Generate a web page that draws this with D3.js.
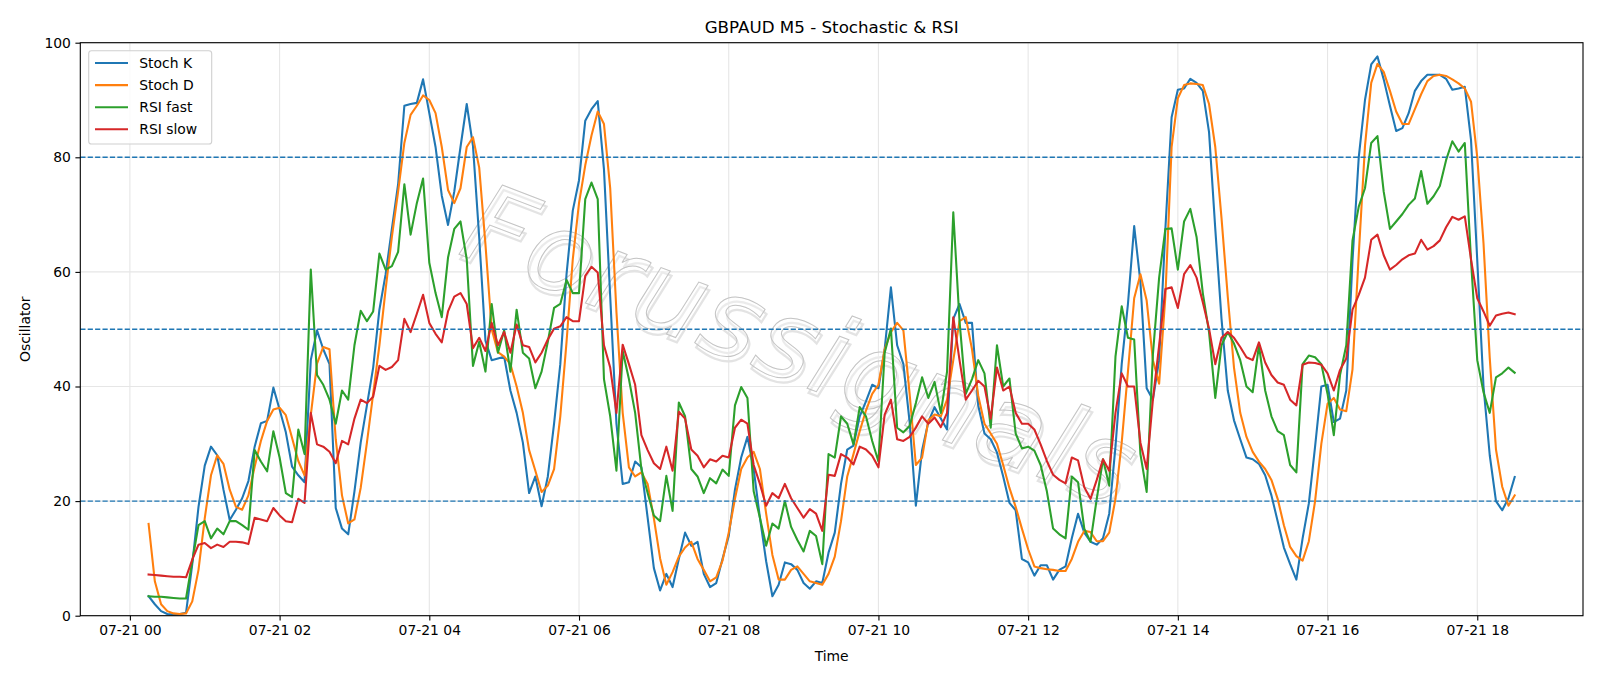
<!DOCTYPE html>
<html>
<head>
<meta charset="utf-8">
<script src="https://cdn.jsdelivr.net/npm/d3@7"></script>
<style>
  body { margin: 0; background: #fff; }
  svg { display: block; font-family: "DejaVu Sans", sans-serif; }
</style>
</head>
<body>
<div id="chart"></div>
<script>
"use strict";
(function() {

const WIDTH = 1600
const HEIGHT = 686
const margin = { top: 42.7, bottom: 70.3, left: 80.3, right: 17 }

const BLUE = "#1f77b4"
const ORANGE = "#ff7f0e"
const GREEN = "#2ca02c"
const RED = "#d62728"

const TITLE = "GBPAUD M5 - Stochastic & RSI"
const WATERMARK = "Forussignals"

// first bar is 07-21 00:15, one bar every 5 minutes
const START = new Date(2024, 6, 21, 0, 15)
const STEP_MIN = 5

const stochK = [
  3.4, 2.0, 0.8, 0.3, 0.2, 0.3, 0.5, 9, 19, 26.2,
  29.5, 28, 22, 16.7, 18.5, 20.5, 23.5, 29.5, 33.6, 34,
  39.8, 36, 32, 26, 24.5, 23.3, 44.6, 49.8, 46.5, 43.9,
  18.8, 15.2, 14.2, 21.7, 30.2, 36.7, 43.3, 53.4, 59.6, 67.5,
  75.3, 89, 89.3, 89.5, 93.6, 87.7, 81.8, 73.3, 68.2, 74,
  81.8, 89.3, 82, 66, 48, 44.6, 44.9, 45.2, 39.3, 35.4,
  30.2, 21.4, 24.3, 19.1, 24.3, 33.5, 43.9, 59.6, 70.7, 76,
  86.4, 88.4, 89.8, 77.9, 55.7, 33.5, 23, 23.3, 26.9, 25.9,
  17.1, 8.3, 4.4, 7.3, 5, 9.9, 14.5, 12.2, 12.9, 7.3,
  5, 5.7, 9.9, 13.9, 22, 27.6, 31.2, 25.6, 17.1, 9.5,
  3.4, 5.4, 9.3, 9, 8, 5.7, 4.7, 6, 5.7, 11,
  14.5, 23, 29, 29.7, 34.8, 37.4, 40.3, 39.7, 46.5, 57.3,
  47.2, 43.9, 33.8, 19.2, 28.9, 33.8, 36.4, 34.4, 32.5, 51.8,
  54.4, 51.1, 51.1, 36.7, 31.8, 30.8, 28.5, 24.3, 19.7, 18.4,
  9.9, 9.3, 7, 8.8, 8.8, 6.3, 8, 8.6, 13.5, 17.8,
  14.5, 12.9, 12.4, 13.5, 17.8, 29.5, 43.9, 54.4, 68, 58.2,
  39.7, 37.7, 44.6, 67.5, 87, 91.8, 92, 93.7, 93, 91.6,
  84.4, 67.5, 51.8, 39.3, 34.1, 30.8, 27.6, 27.3, 26.5, 24.5,
  21, 16.5, 11.9, 9, 6.3, 13.5, 19.6, 29.5, 40, 40.3,
  33.8, 34.4, 39.3, 62, 80, 90, 96.2, 97.6, 93.6, 89,
  84.6, 85.1, 87.7, 91.6, 93.3, 94.4, 94.4, 94.4, 93.7, 91.8,
  92, 92.3, 83, 62, 40, 28, 20, 18.4, 20.5, 24.2
]

const stochD = [
  16, 6, 2, 0.8, 0.4, 0.3, 0.4, 2.5, 8, 17,
  24.5, 28, 26.5, 22, 19, 18.5, 21, 26, 30.5, 34,
  36, 36.3, 35, 31, 27, 24.5, 35, 44, 46.9, 46.5,
  30.8, 21, 16.1, 16.8, 22.3, 30.2, 38.7, 47.2, 57, 66.1,
  74, 82.5, 87.4, 89, 90.8, 90, 87.7, 81.8, 74.3, 72,
  74.6, 81.8, 83.5, 78.2, 64.8, 50, 46, 45.2, 43.9, 40,
  35.4, 28.9, 25.3, 21.6, 22.7, 25.6, 34.8, 47.8, 62.2, 72,
  78.6, 83.8, 88, 85.8, 74.6, 53, 35.4, 25.9, 24.3, 25,
  23, 17, 10, 5.4, 7.6, 10.3, 11.9, 12.9, 9.9, 8,
  6, 6.7, 9.6, 14.5, 20.4, 25.6, 27.6, 28.6, 25.6, 17.8,
  10.6, 6.3, 6.3, 8, 8.6, 7.3, 6, 5.7, 5.4, 7.3,
  10.3, 16.5, 24.3, 28.2, 32.2, 35.8, 38.7, 40.3, 46.5, 49.5,
  51.1, 49.8, 38.7, 26.3, 27.6, 34.1, 35.1, 34.8, 37.7, 44.6,
  51.4, 52.1, 46.5, 38.4, 33.5, 31.8, 30, 26.3, 22.3, 19,
  15.2, 11.6, 8.6, 8.3, 8.1, 8, 7.8, 7.8, 9.9, 12.9,
  14.8, 14.6, 13, 13, 14.5, 20.4, 30.2, 42.6, 55.4, 59.6,
  55, 44.6, 40.5, 55.7, 81.8, 90.3, 92.6, 92.9, 92.8, 92.6,
  89.3, 81.8, 69.4, 55.7, 43.3, 35.4, 31.2, 28.6, 26.9, 25.6,
  23.7, 20.4, 15.8, 12, 10.4, 9.6, 13, 20, 30, 37,
  38, 36, 35.7, 43, 63, 82, 93, 96.3, 94.9, 91.6,
  88, 85.8, 85.8, 88.4, 91, 93.3, 94.2, 94.4, 94.2, 93.6,
  92.9, 92, 89.7, 80, 65, 45, 29, 22.5, 19.2, 21
]

const rsiFast = [
  3.4, 3.3, 3.3, 3.2, 3.1, 3.0, 3.0, 9.5, 15.8, 16.5,
  13.5, 15.2, 14.2, 16.5, 16.5, 15.8, 15, 28.9, 26.9, 25.2,
  32.2, 27.6, 21.4, 20.7, 32.5, 28.2, 60.4, 42, 40.3, 37.7,
  33.5, 39.3, 37.7, 47.2, 53.2, 51.4, 53.1, 63.2, 60.4, 61,
  63.5, 75.3, 66.5, 72, 76.3, 61.6, 56.3, 52.1, 62.5, 67.5,
  68.8, 62.2, 43.6, 47.8, 42.6, 54.4, 45.9, 49.8, 42.6, 53.4,
  45.9, 44.9, 39.7, 42.6, 47.8, 53.7, 54.4, 58.6, 56.3, 56.3,
  72.7, 75.6, 72.7, 41.3, 34.8, 25.3, 46.2, 41.3, 35.4, 25.6,
  21.4, 17.5, 16.5, 24.4, 18.3, 37.2, 34.8, 25.6, 24.3, 21.4,
  24, 23.1, 25.5, 24.4, 36.7, 39.9, 38, 21.7, 17.1, 12.2,
  16.1, 15.2, 20, 15.5, 13.2, 11.2, 14.8, 13.9, 9, 28.2,
  27.6, 34.8, 33.5, 29.9, 36.4, 34.8, 30.5, 26.9, 45.9, 50.1,
  32.8, 32, 33.1, 37.1, 41.6, 38, 40.8, 35.4, 42.6, 70.4,
  51.4, 38.7, 41.3, 44.6, 42.3, 32.8, 47.2, 40, 41.4, 31.8,
  29.2, 29.5, 28.8, 26.3, 21.7, 15.2, 14.2, 13.5, 24.3, 23.3,
  15.2, 12.9, 20.4, 27.3, 22.7, 45.2, 54, 48.5, 48.2, 28.2,
  21.6, 45.6, 59, 67.5, 67.6, 60.4, 68.8, 71, 66.1, 56.3,
  49.5, 38, 47.2, 49.5, 47.5, 44.6, 40, 39, 47.2, 39.3,
  34.8, 32.2, 31.5, 26.3, 25, 43.9, 45.4, 45.1, 43.9, 38.7,
  31.5, 42, 47.2, 65.5, 71.4, 74.6, 82.5, 83.7, 74, 67.5,
  68.8, 70.1, 71.7, 72.8, 77.6, 71.9, 73.2, 75, 79.5, 82.8,
  81, 82.5, 62, 44.6, 39, 35.4, 41.6, 42.3, 43.3, 42.4
]

const rsiSlow = [
  7.2, 7.1, 7.0, 6.9, 6.8, 6.8, 6.7, 9.8, 12.4, 12.7,
  11.8, 12.4, 12, 12.9, 12.9, 12.8, 12.5, 17.1, 16.8, 16.5,
  18.8, 17.5, 16.5, 16.3, 20.4, 19.7, 35.4, 29.9, 29.5, 28.6,
  26.6, 30.5, 29.9, 34.4, 37.7, 37.1, 38.2, 43.6, 42.9, 43.4,
  44.6, 51.8, 49.5, 52.7, 56, 51.1, 49.2, 47.7, 53.1, 55.7,
  56.3, 54.4, 46.7, 48.5, 46.2, 51.1, 47.2, 49.5, 45.9, 50.8,
  47.2, 46.9, 44.2, 45.9, 48.2, 50.1, 50.5, 52.1, 51.4, 51.4,
  59.3, 60.9, 59.9, 47.2, 43.3, 35.4, 47.3, 43.9, 40.3, 31.5,
  28.9, 26.6, 25.6, 29.5, 25.3, 35.6, 34.4, 29, 27.9, 25.9,
  27.3, 26.9, 27.9, 27.6, 32.8, 34.2, 33.5, 26.3, 23, 19.2,
  21.4, 20.5, 23, 20.5, 18.8, 17.1, 18.6, 17.8, 14.8, 24.6,
  24.4, 28.2, 27.6, 26.4, 29.5, 29, 27.9, 25.9, 35.1, 37.7,
  30.8, 30.5, 31.2, 32.8, 34.8, 33.5, 34.6, 32.9, 35.4, 52.1,
  44.6, 37.7, 39.3, 41, 40, 34.4, 43.3, 39.3, 40, 35.4,
  33.5, 33.5, 32.5, 29.9, 27, 24.6, 23.7, 23.1, 27.6, 27.1,
  22.4, 20.4, 23.7, 27.3, 25.3, 35.4, 42.3, 40, 40, 30.2,
  25.6, 37.7, 47.2, 57, 57.3, 53.7, 59.6, 61.2, 59, 54.7,
  50.1, 43.9, 48.5, 49.5, 48.5, 46.9, 45.1, 44.6, 47.7, 44.2,
  42, 40.7, 40.3, 37.7, 36.7, 43.8, 44.2, 44.1, 43.8, 42.3,
  39.3, 42.9, 44.9, 53.4, 56, 59, 65.6, 66.5, 62.9, 60.4,
  61.2, 62.2, 62.9, 63.2, 65.6, 63.9, 64.5, 65.5, 67.8, 69.6,
  69.1, 69.7, 62.2, 55.4, 53.1, 50.6, 52.4, 52.7, 52.9, 52.6
]

const LEVELS = [20, 50, 80]
const Y_TICKS = [0, 20, 40, 60, 80, 100]
const X_TICK_HOURS = [0, 2, 4, 6, 8, 10, 12, 14, 16, 18]

const series = [
  { name: "Stoch K", values: stochK, color: BLUE },
  { name: "Stoch D", values: stochD, color: ORANGE },
  { name: "RSI fast", values: rsiFast, color: GREEN },
  { name: "RSI slow", values: rsiSlow, color: RED }
]

const times = stochK.map((_, i) => new Date(+START + i * STEP_MIN * 60000))

// matplotlib style 5% padding on the time axis
let t0 = +times[0], t1 = +times[times.length - 1]
let pad = (t1 - t0) * 0.05

let x_scale = d3.scaleTime()
    .domain([new Date(t0 - pad), new Date(t1 + pad)])
    .range([margin.left, WIDTH - margin.right])
let y_scale = d3.scaleLinear()
    .domain([0, 100])
    .range([HEIGHT - margin.bottom, margin.top])

let xTicks = X_TICK_HOURS.map(h => new Date(2024, 6, 21, h))
let fmt = d3.timeFormat("%m-%d %H")

var svg = d3.select("#chart").append("svg")
    .attr("width", WIDTH)
    .attr("height", HEIGHT)

svg.append("rect").attr("width", WIDTH).attr("height", HEIGHT).attr("fill", "#fff")

// grid
let grid = svg.append("g").attr("stroke", "#e6e6e6").attr("stroke-width", 1.1)
grid.selectAll("line.gx").data(xTicks).join("line")
    .attr("x1", d => x_scale(d)).attr("x2", d => x_scale(d))
    .attr("y1", margin.top).attr("y2", HEIGHT - margin.bottom)
grid.selectAll("line.gy").data(Y_TICKS).join("line")
    .attr("x1", margin.left).attr("x2", WIDTH - margin.right)
    .attr("y1", d => y_scale(d)).attr("y2", d => y_scale(d))

// watermark, faint outlined text with a soft shadow
let wm = svg.append("g")
    .attr("transform", "translate(801,345) rotate(21)")
    .style("font-style", "italic")
    .style("font-size", "110px")
    .style("letter-spacing", "2px")
    .attr("text-anchor", "middle")
    .attr("dominant-baseline", "central")
wm.append("text").attr("x", 3).attr("y", 4).text(WATERMARK)
    .attr("fill", "none").attr("stroke", "#e3e3e3").attr("stroke-width", 2.2)
wm.append("text").text(WATERMARK)
    .attr("fill", "rgba(255,255,255,0.3)").attr("stroke", "#c4c4c4").attr("stroke-width", 1)

// series
var line = d3.line()
    .x((d, i) => x_scale(times[i]))
    .y(d => y_scale(d))

svg.append("g").selectAll("path").data(series).join("path")
    .attr("d", d => line(d.values))
    .attr("fill", "none")
    .attr("stroke", d => d.color)
    .attr("stroke-width", 2.08)
    .attr("stroke-linejoin", "round")
    .attr("stroke-linecap", "square")

// reference levels
svg.append("g").selectAll("line").data(LEVELS).join("line")
    .attr("x1", margin.left).attr("x2", WIDTH - margin.right)
    .attr("y1", d => y_scale(d)).attr("y2", d => y_scale(d))
    .attr("stroke", BLUE).attr("stroke-width", 1.4)
    .attr("stroke-dasharray", "5.2,2.2")

function drawAxes() {
    let xa = svg.append("g")
        .attr("transform", `translate(0, ${y_scale.range()[0]})`)
        .call(d3.axisBottom(x_scale).tickValues(xTicks).tickFormat(fmt)
            .tickSize(4.9).tickPadding(4.5))
    let ya = svg.append("g")
        .attr("transform", `translate(${margin.left}, 0)`)
        .call(d3.axisLeft(y_scale).tickValues(Y_TICKS).tickSize(4.9).tickPadding(4.5))
    for (let a of [xa, ya]) {
        a.select(".domain").remove()
        a.selectAll(".tick line").attr("stroke", "#000").attr("stroke-width", 1.1)
        a.selectAll(".tick text").attr("fill", "#000")
            .style("font-size", "13.9px").style("font-family", "DejaVu Sans")
    }
    svg.append("rect")
        .attr("x", margin.left).attr("y", margin.top)
        .attr("width", WIDTH - margin.left - margin.right)
        .attr("height", HEIGHT - margin.top - margin.bottom)
        .attr("fill", "none").attr("stroke", "#000").attr("stroke-width", 1.1)
}
drawAxes()

// labels
svg.append("text").attr("x", (margin.left + WIDTH - margin.right) / 2).attr("y", 32.5)
    .attr("text-anchor", "middle").style("font-size", "16.7px").text(TITLE)
svg.append("text").attr("x", (margin.left + WIDTH - margin.right) / 2).attr("y", 661)
    .attr("text-anchor", "middle").style("font-size", "13.9px").text("Time")
svg.append("text")
    .attr("transform", `translate(30, ${(margin.top + HEIGHT - margin.bottom) / 2}) rotate(-90)`)
    .attr("text-anchor", "middle").style("font-size", "13.9px").text("Oscillator")

// legend
let lg = svg.append("g")
lg.append("rect")
    .attr("x", 88.7).attr("y", 50.7).attr("width", 123).attr("height", 93.3)
    .attr("rx", 2.8).attr("fill", "rgba(255,255,255,0.8)")
    .attr("stroke", "#d0d0d0").attr("stroke-width", 1.1)
let rows = lg.selectAll("g.row").data(series).join("g")
    .attr("transform", (d, i) => `translate(0, ${63 + i * 22.1})`)
rows.append("line").attr("x1", 95).attr("x2", 128)
    .attr("stroke", d => d.color).attr("stroke-width", 2.08)
rows.append("text").attr("x", 139.3).attr("dy", "0.35em")
    .style("font-size", "13.9px").text(d => d.name)

})();
</script>
</body>
</html>
